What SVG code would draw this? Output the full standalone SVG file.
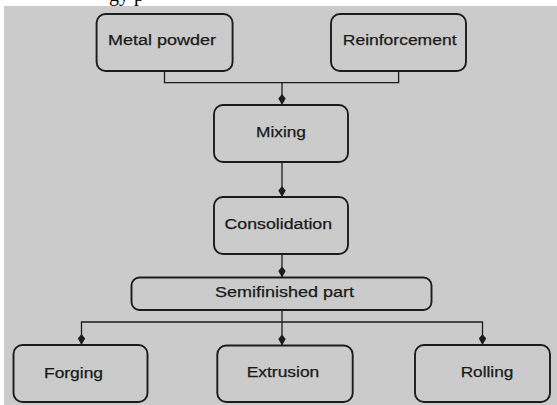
<svg xmlns="http://www.w3.org/2000/svg" width="557" height="405" viewBox="0 0 557 405">
<defs>
<style>
.bg{fill:#cbcbcb}
.box{fill:#cbcbcb;stroke:#1c1c1c;stroke-width:1.9}
.lbl{font-family:"Liberation Sans",Arial,sans-serif;font-size:14px;fill:#1a1a1a;stroke:#1a1a1a;stroke-width:0.25}
.con{fill:none;stroke:#1c1c1c;stroke-width:1.3}
</style>
<marker id="ah" viewBox="0 0 11 8" refX="11" refY="4" markerWidth="11" markerHeight="8" markerUnits="userSpaceOnUse" orient="auto">
<path d="M0,4 L4.5,0.3 L11,4 L4.5,7.7 Z" fill="#1c1c1c"/>
</marker>
</defs>
<rect x="0" y="0" width="557" height="405" fill="#ffffff"/>
<text x="109" y="0.5" font-family="'Liberation Serif',serif" font-size="20" fill="#000">gy p</text>
<rect class="bg" x="4" y="6" width="553" height="399"/>
<g id="connectors">
<path class="con" d="M164.5,71 V82.7 H398.6 V71"/>
<path class="con" d="M282,82.7 V105" marker-end="url(#ah)"/>
<path class="con" d="M282,162 V197" marker-end="url(#ah)"/>
<path class="con" d="M282,254 V277.5" marker-end="url(#ah)"/>
<path class="con" d="M282,310 V345.5" marker-end="url(#ah)"/>
<path class="con" d="M282,322 H81.5 V345" marker-end="url(#ah)"/>
<path class="con" d="M282,322 H482.5 V345" marker-end="url(#ah)"/>
</g>
<g id="metal-powder">
<rect class="box" x="96.6" y="14" width="136" height="57" rx="9"/>
<text class="lbl" x="108" y="45" textLength="108" lengthAdjust="spacingAndGlyphs">Metal powder</text>
</g>
<g id="reinforcement">
<rect class="box" x="331" y="14" width="135" height="57" rx="9"/>
<text class="lbl" x="342.8" y="45" textLength="113.7" lengthAdjust="spacingAndGlyphs">Reinforcement</text>
</g>
<g id="mixing">
<rect class="box" x="214" y="105" width="134" height="57" rx="9"/>
<text class="lbl" x="256" y="137" textLength="50" lengthAdjust="spacingAndGlyphs">Mixing</text>
</g>
<g id="consolidation">
<rect class="box" x="214" y="197" width="134" height="57" rx="9"/>
<text class="lbl" x="224.5" y="229" textLength="107.6" lengthAdjust="spacingAndGlyphs">Consolidation</text>
</g>
<g id="semifinished-part">
<rect class="box" x="131.5" y="277.5" width="300" height="32.5" rx="8"/>
<text class="lbl" x="215" y="297.3" textLength="139" lengthAdjust="spacingAndGlyphs">Semifinished part</text>
</g>
<g id="forging">
<rect class="box" x="13.5" y="345" width="134" height="57" rx="9"/>
<text class="lbl" x="44" y="377.5" textLength="59" lengthAdjust="spacingAndGlyphs">Forging</text>
</g>
<g id="extrusion">
<rect class="box" x="217.3" y="345.5" width="135.4" height="56.5" rx="9"/>
<text class="lbl" x="246.7" y="377" textLength="72.6" lengthAdjust="spacingAndGlyphs">Extrusion</text>
</g>
<g id="rolling">
<rect class="box" x="415" y="345" width="135" height="57" rx="9"/>
<text class="lbl" x="460.7" y="377" textLength="52.6" lengthAdjust="spacingAndGlyphs">Rolling</text>
</g>
</svg>
